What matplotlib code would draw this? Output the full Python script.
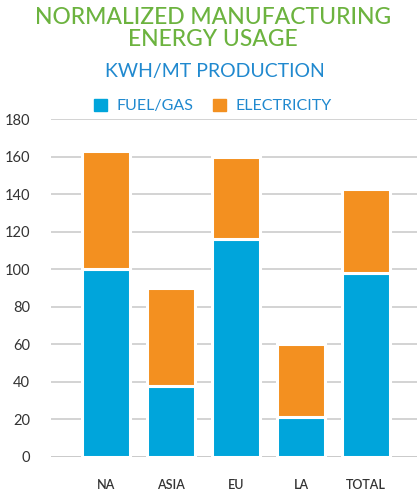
import matplotlib
matplotlib.use("Agg")
from matplotlib import pyplot as plt
from matplotlib.patches import Patch

regions = ["NA", "ASIA", "EU", "LA", "TOTAL"]
fuel_gas = [100, 38, 116, 21, 98]
electricity = [63, 52, 44, 39, 45]
y_ticks = [0, 20, 40, 60, 80, 100, 120, 140, 160, 180]

blue = "#00a5db"
orange = "#f39020"
green = "#6cb33f"
text_blue = "#2089cf"
dark = "#333333"

plt.rcParams["font.family"] = ["Lato", "DejaVu Sans"]

fig = plt.figure(figsize=(4.17, 4.91), dpi=100)
ax = fig.add_axes([51 / 417, (491 - 456.7) / 491, 1 - 51 / 417, (456.7 - 119.5) / 491])

x = range(len(regions))
ax.bar(x, fuel_gas, width=0.74, color=blue, edgecolor="white", linewidth=2.2, zorder=3)
ax.bar(x, electricity, bottom=fuel_gas, width=0.74, color=orange,
       edgecolor="white", linewidth=2.2, zorder=3)

ax.set_ylim(0, 180)
ax.set_xlim(-0.85, 4.78)
ax.set_yticks(y_ticks)
ax.set_xticks(list(x))
ax.set_xticklabels(regions, fontsize=9, color=dark, fontweight="semibold")
ax.tick_params(axis="y", length=0, pad=15, labelsize=10.5, labelcolor=dark)
ax.tick_params(axis="x", length=0, pad=16)
ax.grid(axis="y", color="#cccccc", linewidth=1.2, zorder=0)
ax.axhline(0, color="#c4c4c4", linewidth=2, zorder=1)
for s in ax.spines.values():
    s.set_visible(False)

fig.text(213 / 417, 1 - 17 / 491, "NORMALIZED MANUFACTURING", ha="center", va="center",
         fontsize=16.5, color=green, fontweight="medium")
fig.text(213 / 417, 1 - 40 / 491, "ENERGY USAGE", ha="center", va="center",
         fontsize=16.5, color=green, fontweight="medium")
fig.text(215 / 417, 1 - 71 / 491, "KWH/MT PRODUCTION", ha="center", va="center",
         fontsize=14, color=text_blue)

handles = [Patch(color=blue), Patch(color=orange)]
fig.legend(handles, ["FUEL/GAS", "ELECTRICITY"], loc="center",
           bbox_to_anchor=(213 / 417, 1 - 106 / 491), ncol=2, frameon=False,
           fontsize=11.5, labelcolor=text_blue, handlelength=0.8, handleheight=0.8,
           handletextpad=0.6, columnspacing=1.2)

fig.savefig("out.png", dpi=100)
